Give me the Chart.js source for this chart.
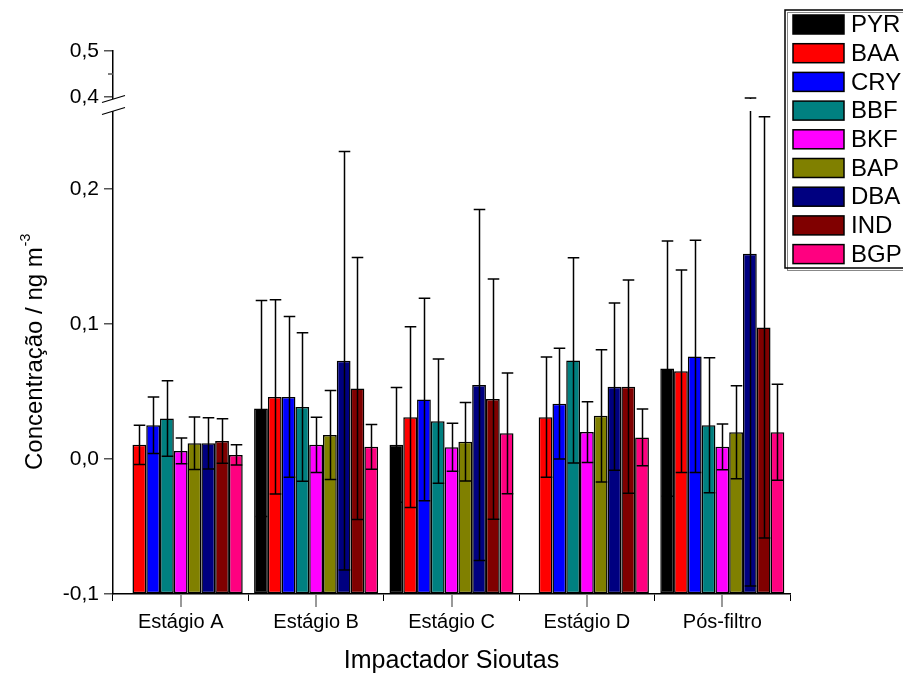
<!DOCTYPE html>
<html>
<head>
<meta charset="utf-8">
<script src="https://cdn.jsdelivr.net/npm/chart.js@4.4.1/dist/chart.umd.min.js"></script>
<style>
  html, body { margin: 0; padding: 0; background: #fff; }
  #wrap { width: 903px; height: 677px; }
</style>
</head>
<body>
<div id="wrap"><canvas id="c" width="903" height="677"></canvas></div>
<script>
// Sampling stages of the Sioutas impactor
const categories = ['Estágio A', 'Estágio B', 'Estágio C', 'Estágio D', 'Pós-filtro'];

// Mean concentrations (ng m-3) per compound, one value per stage
const PYR = [null, 0.0375, 0.0105, null, 0.067];
const BAA = [0.0105, 0.046, 0.031, 0.031, 0.065];
const CRY = [0.025, 0.046, 0.044, 0.041, 0.076];
const BBF = [0.030, 0.0385, 0.028, 0.073, 0.025];
const BKF = [0.006, 0.0105, 0.0087, 0.020, 0.009];
const BAP = [0.0117, 0.0178, 0.0128, 0.032, 0.0198];
const DBA = [0.0116, 0.0728, 0.0548, 0.0536, 0.152];
const IND = [0.0133, 0.0522, 0.0444, 0.0536, 0.0975];
const BGP = [0.003, 0.009, 0.019, 0.016, 0.0198];

// Standard deviations (symmetric error bars)
const PYR_sd = [null, 0.080, 0.0425, null, 0.0945];
const BAA_sd = [0.0145, 0.072, 0.067, 0.0445, 0.075];
const CRY_sd = [0.021, 0.0595, 0.075, 0.041, 0.086];
const BBF_sd = [0.028, 0.055, 0.046, 0.076, 0.050];
const BKF_sd = [0.0095, 0.0205, 0.0178, 0.0225, 0.017];
const BAP_sd = [0.0195, 0.033, 0.029, 0.049, 0.0345];
const DBA_sd = [0.019, 0.155, 0.130, 0.062, 0.246];
const IND_sd = [0.0165, 0.097, 0.089, 0.079, 0.156];
const BGP_sd = [0.0075, 0.0165, 0.0447, 0.021, 0.0355];

// Y tick values (the axis is broken between 0,26 and 0,40)
const yTicks = [-0.1, 0, 0.1, 0.2, 0.4, 0.5];
const yMinorTicks = [0.45];

const series = [
  { label: 'PYR', data: PYR, sd: PYR_sd, color: '#000000' },
  { label: 'BAA', data: BAA, sd: BAA_sd, color: '#ff0000' },
  { label: 'CRY', data: CRY, sd: CRY_sd, color: '#0000ff' },
  { label: 'BBF', data: BBF, sd: BBF_sd, color: '#008080' },
  { label: 'BKF', data: BKF, sd: BKF_sd, color: '#ff00ff' },
  { label: 'BAP', data: BAP, sd: BAP_sd, color: '#808000' },
  { label: 'DBA', data: DBA, sd: DBA_sd, color: '#000080' },
  { label: 'IND', data: IND, sd: IND_sd, color: '#800000' },
  { label: 'BGP', data: BGP, sd: BGP_sd, color: '#ff0080' }
];

const FONT = "'Liberation Sans', Arial, Helvetica, sans-serif";

// Linear scale with a gap: values in [breakStart, breakEnd] are squeezed out
class BrokenLinearScale extends Chart.LinearScale {
  buildTicks() {
    return this.options.tickValues.map(v => ({ value: v }));
  }
  _frac(v) {
    const o = this.options;
    const lo = o.breakStart, hi = o.breakEnd, f1 = o.lowerFraction, f2 = o.upperStart;
    if (v <= lo) return (v - this.min) / (lo - this.min) * f1;
    if (v >= hi) return f2 + (v - hi) / (this.max - hi) * (1 - f2);
    return f1 + (v - lo) / (hi - lo) * (f2 - f1);
  }
  getPixelForValue(v) {
    return this.bottom - this._frac(v) * (this.bottom - this.top);
  }
  getValueForPixel(p) {
    const o = this.options;
    const f = (this.bottom - p) / (this.bottom - this.top);
    const lo = o.breakStart, hi = o.breakEnd, f1 = o.lowerFraction, f2 = o.upperStart;
    if (f <= f1) return this.min + f / f1 * (lo - this.min);
    if (f >= f2) return hi + (f - f2) / (1 - f2) * (this.max - hi);
    return lo + (f - f1) / (f2 - f1) * (hi - lo);
  }
}
BrokenLinearScale.id = 'brokenLinear';
BrokenLinearScale.defaults = Chart.LinearScale.defaults;
Chart.register(BrokenLinearScale);

// Error bars: whisker with caps at mean ± sd, split across the axis break
const errorBars = {
  id: 'errorBars',
  afterDatasetsDraw(chart) {
    const ctx = chart.ctx, ys = chart.scales.y, o = ys.options;
    ctx.save();
    ctx.strokeStyle = '#000';
    ctx.lineWidth = 1.5;
    chart.data.datasets.forEach((ds, i) => {
      const meta = chart.getDatasetMeta(i);
      meta.data.forEach((bar, j) => {
        const v = ds.data[j], e = ds.sd[j];
        if (v == null || e == null) return;
        const x = Math.round(bar.x) + 0.5;
        const hw = bar.width * 0.42;
        const yTop = ys.getPixelForValue(v + e);
        const yBot = ys.getPixelForValue(v - e);
        ctx.beginPath();
        if (v + e > o.breakStart) {
          ctx.moveTo(x, yBot); ctx.lineTo(x, ys.getPixelForValue(o.breakStart));
          ctx.moveTo(x, ys.getPixelForValue(o.breakEnd)); ctx.lineTo(x, yTop);
        } else {
          ctx.moveTo(x, yBot); ctx.lineTo(x, yTop);
        }
        ctx.moveTo(x - hw, yTop); ctx.lineTo(x + hw, yTop);
        ctx.moveTo(x - hw, yBot); ctx.lineTo(x + hw, yBot);
        ctx.stroke();
      });
    });
    ctx.restore();
  }
};

// Axis decorations: break marks, minor ticks, y title with superscript, legend box
const decorations = {
  id: 'decorations',
  afterDraw(chart) {
    const ctx = chart.ctx, ys = chart.scales.y, xs = chart.scales.x, o = ys.options;
    const area = chart.chartArea;
    const ax = ys.right;
    ctx.save();

    // axis break
    const yHi = ys.getPixelForValue(o.breakEnd);
    const yLo = ys.getPixelForValue(o.breakStart);
    ctx.fillStyle = '#fff';
    ctx.fillRect(ax - 3, yHi, 6, yLo - yHi);
    ctx.strokeStyle = '#000';
    ctx.lineWidth = 1.3;
    ctx.beginPath();
    [yHi, yLo].forEach(yy => {
      ctx.moveTo(ax - 11, yy + 3.5);
      ctx.lineTo(ax + 12, yy - 3.5);
    });
    ctx.stroke();

    // minor y ticks
    ctx.strokeStyle = '#555';
    ctx.lineWidth = 1.5;
    ctx.beginPath();
    yMinorTicks.forEach(v => {
      const yy = ys.getPixelForValue(v);
      ctx.moveTo(ax - 5, yy); ctx.lineTo(ax, yy);
    });
    ctx.stroke();

    // minor x ticks at category centres
    ctx.strokeStyle = '#999';
    ctx.lineWidth = 2;
    ctx.beginPath();
    categories.forEach((c, j) => {
      const xx = Math.round(xs.getPixelForValue(j));
      ctx.moveTo(xx, area.bottom + 1); ctx.lineTo(xx, area.bottom + 13);
    });
    ctx.stroke();

    // y axis title
    ctx.fillStyle = '#000';
    ctx.translate(42, area.bottom - 124);
    ctx.rotate(-Math.PI / 2);
    ctx.font = '24px ' + FONT;
    ctx.textAlign = 'left';
    ctx.textBaseline = 'alphabetic';
    const main = 'Concentração / ng m';
    ctx.fillText(main, 0, 0);
    const w = ctx.measureText(main).width;
    ctx.font = '14px ' + FONT;
    ctx.fillText('-3', w + 1, -12);
    ctx.setTransform(1, 0, 0, 1, 0, 0);

    // legend
    const bx = chart.width - 118, by = 10, bh = 258;
    ctx.fillStyle = '#fff';
    ctx.fillRect(bx, by, 140, bh);
    ctx.strokeStyle = '#888';
    ctx.lineWidth = 1;
    ctx.strokeRect(bx + 2.5, by + 2.5, 140, bh);
    ctx.strokeStyle = '#000';
    ctx.lineWidth = 1.5;
    ctx.strokeRect(bx, by, 140, bh);
    ctx.font = '24px ' + FONT;
    ctx.textBaseline = 'middle';
    chart.data.datasets.forEach((ds, i) => {
      const cy = by + 14.5 + i * 28.7;
      ctx.fillStyle = ds.backgroundColor;
      ctx.fillRect(bx + 8, cy - 9.5, 51, 19);
      ctx.lineWidth = 1.5;
      ctx.strokeStyle = '#000';
      ctx.strokeRect(bx + 8, cy - 9.5, 51, 19);
      ctx.fillStyle = '#000';
      ctx.fillText(ds.label, bx + 66, cy + 1);
    });
    ctx.restore();
  }
};

new Chart(document.getElementById('c'), {
  type: 'bar',
  data: {
    labels: categories,
    datasets: series.map(s => ({
      label: s.label,
      data: s.data,
      sd: s.sd,
      base: -0.1,
      backgroundColor: s.color,
      borderColor: '#000',
      borderWidth: 1.5,
      borderSkipped: false,
      categoryPercentage: 0.916,
      barPercentage: 1.0
    }))
  },
  options: {
    responsive: false,
    animation: false,
    devicePixelRatio: 1,
    layout: { padding: { top: 51, right: 113, left: 0, bottom: 0 } },
    plugins: {
      legend: { display: false },
      tooltip: { enabled: false }
    },
    scales: {
      x: {
        type: 'category',
        grid: { offset: true, drawOnChartArea: false, tickLength: 7, color: '#000', lineWidth: 1 },
        border: { color: '#000', width: 1.5 },
        ticks: { font: { family: FONT, size: 20 }, color: '#000', padding: 9, maxRotation: 0 },
        title: {
          display: true, text: 'Impactador Sioutas', color: '#000',
          font: { family: FONT, size: 25 }, padding: { top: 0, bottom: 1 }
        },
        afterFit(s) { s.height = 83; }
      },
      y: {
        type: 'brokenLinear',
        min: -0.1, max: 0.5,
        breakStart: 0.2578, breakEnd: 0.3957,
        lowerFraction: 0.8895, upperStart: 0.9116,
        tickValues: yTicks,
        grid: { drawOnChartArea: false, tickLength: 9, color: '#555', lineWidth: 1.5 },
        border: { color: '#000', width: 1.5 },
        ticks: {
          font: { family: FONT, size: 21 }, color: '#000', padding: 5,
          callback: v => v.toFixed(1).replace('.', ',')
        },
        afterFit(s) { s.width = 113; }
      }
    }
  },
  plugins: [errorBars, decorations]
});
</script>
</body>
</html>
